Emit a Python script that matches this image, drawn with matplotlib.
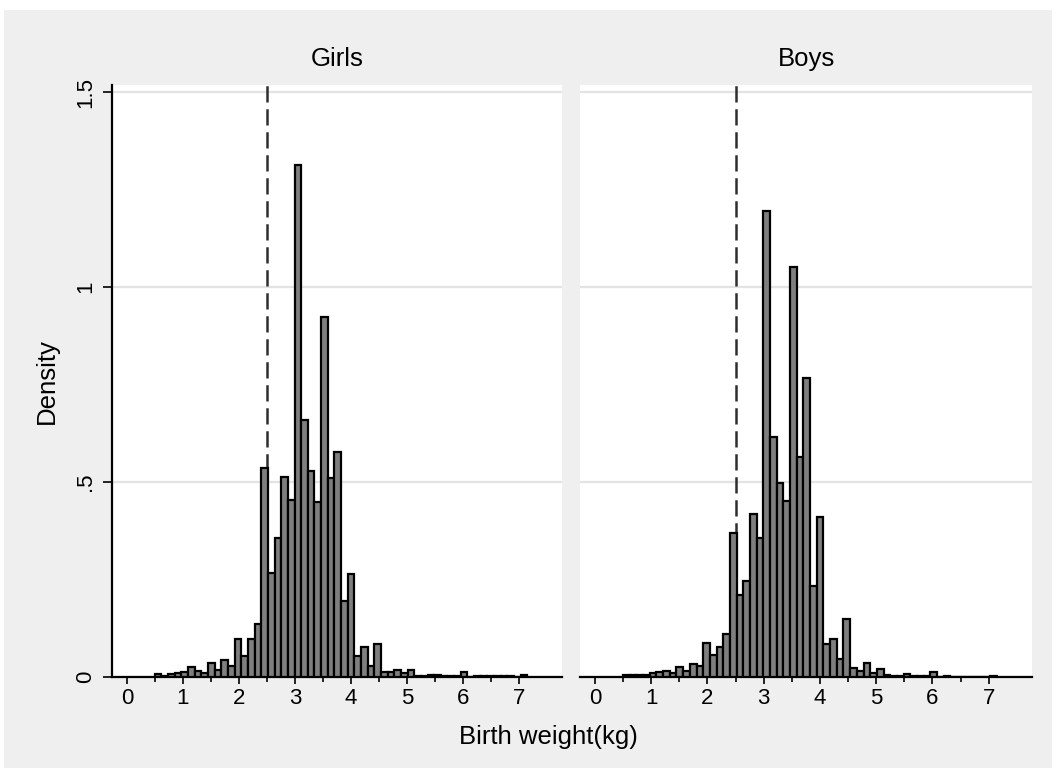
import numpy as np
import matplotlib
matplotlib.use("Agg")
import matplotlib.pyplot as plt
from matplotlib.patches import Rectangle

# histogram bins shared by both panels (kg)
bin_start = 0.5
bin_width = 0.11875
n_bins = 56

# density per bin
girls = [0.007, 0.003, 0.007, 0.009, 0.014, 0.025, 0.016, 0.011, 0.035, 0.018,
         0.044, 0.028, 0.098, 0.055, 0.098, 0.137, 0.536, 0.266, 0.357, 0.512,
         0.454, 1.312, 0.658, 0.527, 0.450, 0.924, 0.510, 0.576, 0.195, 0.265,
         0.055, 0.078, 0.029, 0.085, 0.013, 0.013, 0.019, 0.010, 0.019, 0.003,
         0.003, 0.005, 0.005, 0.003, 0.003, 0.003, 0.012, 0.001, 0.002, 0.002,
         0.003, 0.003, 0.003, 0.003, 0.001, 0.004]
boys = [0.006, 0.004, 0.004, 0.005, 0.009, 0.013, 0.016, 0.011, 0.025, 0.015,
        0.034, 0.029, 0.086, 0.057, 0.076, 0.110, 0.368, 0.210, 0.245, 0.419,
        0.357, 1.196, 0.615, 0.498, 0.452, 1.052, 0.563, 0.767, 0.234, 0.409,
        0.085, 0.097, 0.045, 0.150, 0.022, 0.016, 0.035, 0.011, 0.021, 0.005,
        0.003, 0.003, 0.008, 0.003, 0.003, 0.003, 0.014, 0.001, 0.002, 0.001,
        0.001, 0.001, 0.001, 0.001, 0.001, 0.003]

panels = ["Girls", "Boys"]
cutoff = 2.5
y_ticks = [0, 0.5, 1, 1.5]
y_labels = ["0", ".5", "1", "1.5"]
x_ticks = [0, 1, 2, 3, 4, 5, 6, 7]
x_minor = [0.5, 1.5, 2.5, 3.5, 4.5, 5.5, 6.5]

plt.rcParams["font.family"] = ["Liberation Sans", "DejaVu Sans"]

W, H = 1056, 773
fig = plt.figure(figsize=(W / 100, H / 100), dpi=100)
fig.patch.set_facecolor("white")
# light gray graph region inside a thin white margin
fig.patches.append(Rectangle((4 / W, 5 / H), 1048 / W, 758 / H,
                             transform=fig.transFigure, facecolor="#efefef",
                             edgecolor="none", zorder=-10))

edges = bin_start + bin_width * np.arange(n_bins + 1)
centers = (edges[:-1] + edges[1:]) / 2

# axes boxes in pixels: left, right
boxes = [(112, 562), (580, 1032)]
top, bottom = 85, 677

for i, (name, dens) in enumerate(zip(panels, [girls, boys])):
    x0, x1 = boxes[i]
    ax = fig.add_axes([x0 / W, (H - bottom) / H, (x1 - x0) / W, (bottom - top) / H])
    ax.set_facecolor("white")
    ax.hist(centers, bins=edges, weights=dens, color="#7f7f7f",
            edgecolor="black", linewidth=1.6, zorder=3)
    ax.axvline(cutoff, color="#2e2e2e", lw=1.8, linestyle=(0, (6.5, 2.7)), zorder=2)

    ax.set_xlim(-0.265, 7.77)
    ax.set_ylim(0, 1.518)
    ax.set_yticks(y_ticks)
    ax.grid(axis="y", color="#e3e3e3", lw=1.6, zorder=0)
    ax.set_axisbelow(True)

    ax.set_xticks(x_ticks)
    ax.set_xticks(x_minor, minor=True)
    ax.tick_params(axis="x", which="major", length=5, width=1.2, pad=3,
                   labelsize=16, color="black")
    ax.tick_params(axis="x", which="minor", length=3.6, width=1.2, color="black")

    for s in ["top", "right"]:
        ax.spines[s].set_visible(False)
    ax.spines["bottom"].set_linewidth(1.6)

    if i == 0:
        ax.set_yticklabels(y_labels, rotation=90, va="center")
        ax.tick_params(axis="y", length=6.5, width=1.2, pad=5, labelsize=16)
        ax.spines["left"].set_linewidth(1.6)
    else:
        ax.spines["left"].set_visible(False)
        ax.tick_params(axis="y", length=0, labelleft=False)

    fig.text((x0 + x1) / 2 / W, 1 - 59 / H, name, ha="center", va="center",
             fontsize=18.5)

fig.text(47 / W, 1 - 381 / H, "Density", rotation=90, ha="center",
         va="center", fontsize=18.5)
fig.text(548 / W, 1 - 737 / H, "Birth weight(kg)", ha="center", va="center",
         fontsize=18.5)

fig.savefig("out.png", dpi=100, facecolor=fig.get_facecolor())
